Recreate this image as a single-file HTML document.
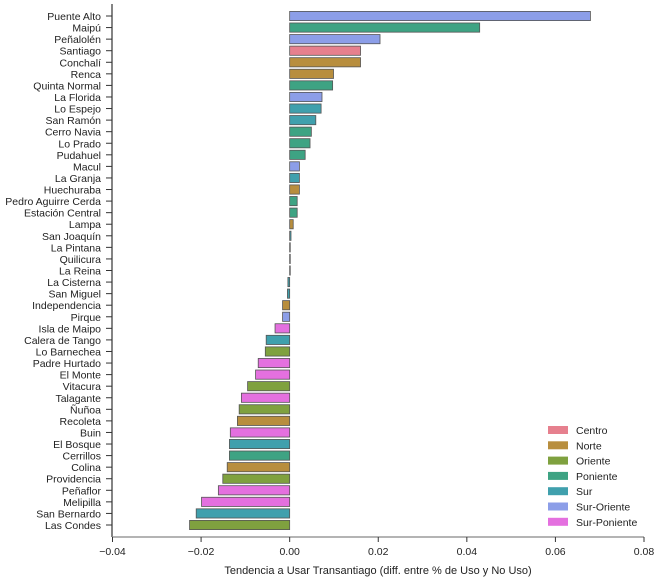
<!DOCTYPE html>
<html><head><meta charset="utf-8"><style>
body{margin:0;background:#fff;}
svg{display:block;font-family:"Liberation Sans",sans-serif;}
</style></head><body>
<svg id="chart" width="660" height="581"></svg>
<script>
const categories=["Puente Alto","Maipú","Peñalolén","Santiago","Conchalí","Renca","Quinta Normal","La Florida","Lo Espejo","San Ramón","Cerro Navia","Lo Prado","Pudahuel","Macul","La Granja","Huechuraba","Pedro Aguirre Cerda","Estación Central","Lampa","San Joaquín","La Pintana","Quilicura","La Reina","La Cisterna","San Miguel","Independencia","Pirque","Isla de Maipo","Calera de Tango","Lo Barnechea","Padre Hurtado","El Monte","Vitacura","Talagante","Ñuñoa","Recoleta","Buin","El Bosque","Cerrillos","Colina","Providencia","Peñaflor","Melipilla","San Bernardo","Las Condes"];
const values=[0.0679,0.0429,0.0204,0.016,0.016,0.0099,0.0097,0.0073,0.0071,0.0059,0.0049,0.0046,0.0035,0.0022,0.0022,0.0022,0.0017,0.0017,0.0008,0.0003,0.0001,0.0001,0.0001,-0.0004,-0.0005,-0.0016,-0.0016,-0.0033,-0.0053,-0.0055,-0.0071,-0.0077,-0.0095,-0.0109,-0.0114,-0.0118,-0.0134,-0.0136,-0.0136,-0.0141,-0.0151,-0.0161,-0.0199,-0.0211,-0.0226];
const zones=["Sur-Oriente","Poniente","Sur-Oriente","Centro","Norte","Norte","Poniente","Sur-Oriente","Sur","Sur","Poniente","Poniente","Poniente","Sur-Oriente","Sur","Norte","Poniente","Poniente","Norte","Sur","Sur","Norte","Oriente","Sur","Sur","Norte","Sur-Oriente","Sur-Poniente","Sur","Oriente","Sur-Poniente","Sur-Poniente","Oriente","Sur-Poniente","Oriente","Norte","Sur-Poniente","Sur","Poniente","Norte","Oriente","Sur-Poniente","Sur-Poniente","Sur","Oriente"];
const legendNames=["Centro","Norte","Oriente","Poniente","Sur","Sur-Oriente","Sur-Poniente"];
const legendColors=["#e6808e","#b88e3e","#7fa13f","#3ea383","#40a0ad","#8c9ee8","#e470df"];
const xTicks=[-0.04,-0.02,0,0.02,0.04,0.06,0.08];
const xTickLabels=["−0.04","−0.02","0.00","0.02","0.04","0.06","0.08"];

const NS="http://www.w3.org/2000/svg";
const svg=document.getElementById('chart');
function mk(t,a,p){const e=document.createElementNS(NS,t);for(const k in a)e.setAttribute(k,a[k]);(p||svg).appendChild(e);return e;}
const X0=112.5,X1=644,D0=-0.04,D1=0.08;
const xs=v=>X0+(v-D0)/(D1-D0)*(X1-X0);
const Y0=16,step=(525-16)/44;
const ys=i=>Y0+i*step;
const bh=9.2;
const axisY=537;

categories.forEach((c,i)=>{
  const y=ys(i),v=values[i];
  const x=Math.min(xs(0),xs(v)),w=Math.abs(xs(v)-xs(0));
  const col=legendColors[legendNames.indexOf(zones[i])];
  const r=mk('rect',{x:x,y:y-bh/2,width:Math.max(w,0.6),height:bh,fill:col,stroke:'#555','stroke-width':0.8});
  
  
  const tk=mk('line',{x1:106,x2:112,y1:y,y2:y,stroke:'#333','stroke-width':1});
  
  
  const t=mk('text',{x:101,y:y+4,'text-anchor':'end','font-size':10.5,fill:'#222'});
  t.textContent=c;
  
  
});
const ya=mk('line',{x1:112,x2:112,y1:4,y2:axisY,stroke:'#333','stroke-width':1.2});


const xa=mk('line',{x1:112,x2:X1,y1:axisY,y2:axisY,stroke:'#888','stroke-width':1.2});


xTicks.forEach((v,i)=>{
  const tk=mk('line',{x1:xs(v),x2:xs(v),y1:axisY,y2:axisY+5,stroke:'#333','stroke-width':1});
  
  
  const t=mk('text',{x:xs(v),y:555,'text-anchor':'middle','font-size':10.5,fill:'#222'});
  t.textContent=xTickLabels[i];
  
  
});
const xt=mk('text',{x:378,y:574,'text-anchor':'middle','font-size':11,fill:'#222'});
xt.textContent="Tendencia a Usar Transantiago (diff. entre % de Uso y No Uso)";


const lg=mk('g',{});


legendNames.forEach((n,i)=>{
  const y=430+i*15.3;
  const r=mk('rect',{x:548,y:y-4,width:20,height:8,fill:legendColors[i]},lg);
  
  
  const t=mk('text',{x:576,y:y+4,'font-size':10.5,fill:'#222'},lg);
  t.textContent=n;
  
  
});
</script>
</body></html>
